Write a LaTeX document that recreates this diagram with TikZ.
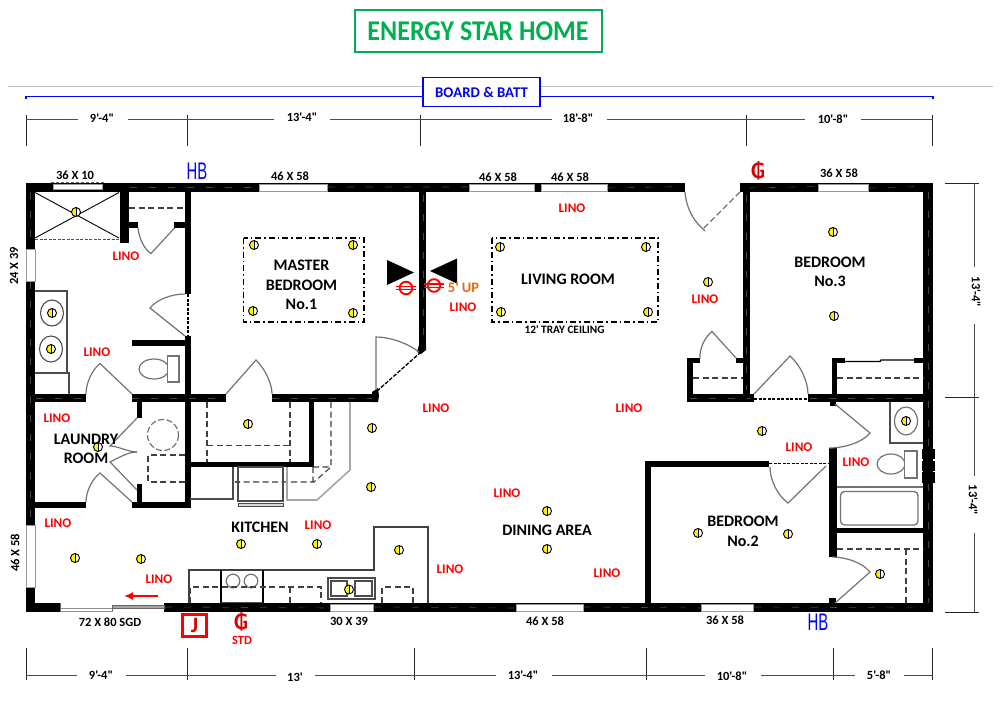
\documentclass[tikz,border=0pt]{standalone}
\usepackage{fontspec}
\usetikzlibrary{arrows.meta,calc}
\newfontfamily\cb{Carlito}
\newfontfamily\djf{DejaVu Sans}
\newfontfamily\lib{Liberation Sans}
\definecolor{egreen}{RGB}{0,176,80}
\definecolor{eorange}{RGB}{228,108,10}
\newcommand\wl[4]{\fill[black] (#1,#2) rectangle (#3,#4);}
\newcommand\win[4]{\fill[white] (#1,#2) rectangle (#3,#4);}
\newcommand\door[6]{\draw[doorln] (#1,#2) -- (#3,#4) .. controls ($(#3,#4)!.58!(#5)$) and ($(#6)!.58!(#5)$) .. (#6);}
\tikzset{
  traytxt/.style={inner sep=0pt,align=center,text=black,font=\cb\bfseries\fontsize{11.3}{13}\selectfont},
  room/.style={inner sep=0pt,align=center,text=black,font=\cb\bfseries\fontsize{16}{19.5}\selectfont},
  size/.style={inner sep=0pt,text=black,font=\cb\bfseries\fontsize{12.5}{14}\selectfont},
  lino/.style={inner sep=0pt,text=red,font=\cb\bfseries\fontsize{13.2}{15}\selectfont},
  doorln/.style={draw=black!55,line width=1.2pt},
  dashln/.style={draw=black!75,line width=1.1pt,dash pattern=on 6pt off 3.5pt},
  wallmark/.style={draw=black!72,line width=.6pt,dash pattern=on 7pt off 12pt},
  thinln/.style={draw=black!70,line width=1.1pt},
  dimln/.style={draw=black!70,line width=.8pt},
  dimtick/.style={draw=black!85,line width=.7pt},
  tray/.style={draw=black,line width=1.1pt,dash pattern=on 6pt off 3pt on 1.5pt off 3pt},
  lamp/.pic={
    \fill[white] (0,0) circle (4.5);
    \fill[yellow] (0,-4.5) .. controls (-6,-4.5) and (-6,4.5) .. (0,4.5) -- cycle;
    \draw[black,line width=.9pt] (0,0) circle (4.5);
    \draw[black,line width=.7pt] (0,-4.5) -- (0,4.5);
  },
  outlet/.pic={
    \draw[red,line width=1.9pt] (0,0) circle (6.3);
    \draw[red,line width=1.2pt] (-10,-1.6) -- (10,-1.6) (-10,1.6) -- (10,1.6);
  },
  fanr/.pic={\fill[black] (0,-12.5) -- (27,0) -- (0,12.5) -- cycle;},
  fanl/.pic={\fill[black] (0,-12.5) -- (-27,0) -- (0,12.5) -- cycle;},
}
\begin{document}
\begin{tikzpicture}[x=1pt,y=-1pt]
\useasboundingbox (0,0) rectangle (1000,703);
\fill[white] (0,0) rectangle (1000,703);

% title
\draw[egreen,line width=2pt] (355,10) rectangle (602,52);
\node[inner sep=0pt,text=egreen,yscale=1.1,font=\cb\bfseries\fontsize{26}{30}\selectfont] (title) at (478,31) {ENERGY STAR HOME};
\draw[black!25,line width=.8pt] (8,86) -- (993,86);

% board and batt
\draw[blue,line width=1.5pt] (26,99.5) -- (26,96.5) -- (933,96.5) -- (933,99.5);
\node[draw=blue,fill=white,line width=1.6pt,minimum width=117pt,minimum height=29pt,inner sep=0pt,text=blue,font=\cb\bfseries\fontsize{14.8}{16}\selectfont] (bb) at (481.5,92) {BOARD \& BATT};

% top dimensions
\foreach \x in {26,187.5,420,746,932.5} \draw[dimtick] (\x,115) -- (\x,146);
\draw[dimln] (26,119) -- (78,119) (128,119) -- (274,119) (330,119) -- (552,119) (607,119) -- (805,119) (861,119) -- (932.5,119);
\node[size] (t1) at (102,118) {9'-4"};
\node[size] (t2) at (302,117) {13'-4"};
\node[size] (t3) at (578,118.5) {18'-8"};
\node[size] (t4) at (833,119.5) {10'-8"};

% bottom dimensions
\foreach \x in {26,187.5,414.5,646,833,932.5} \draw[dimtick] (\x,648) -- (\x,680);
\draw[dimln] (26,675.5) -- (76.5,675.5) (126,675.5) -- (275.5,675.5) (315,675.5) -- (495.5,675.5) (552,675.5) -- (705,675.5) (761,675.5) -- (855,675.5) (904,675.5) -- (932.5,675.5);
\node[size] (b1) at (101,675) {9'-4"};
\node[size] (b2) at (295,677) {13'};
\node[size] (b3) at (523,675) {13'-4"};
\node[size] (b4) at (732,676) {10'-8"};
\node[size] (b5) at (879,675) {5'-8"};

% right dimensions
\draw[dimtick] (945,183) -- (979,183) (945,397) -- (979,397) (945,612) -- (979,612);
\draw[dimln] (974,183) -- (974,267) (974,324) -- (974,476) (974,533) -- (974,612);
\node[size,rotate=-90] (r1) at (976,292) {13'-4"};
\node[size,rotate=-90] (r2) at (973,500) {13'-4"};

% ---------- outer walls
\wl{26}{183}{933}{192}
\wl{26}{183}{35}{612}
\wl{923}{183}{933}{612}
\wl{26}{603}{933}{612}
% door gap top and SGD
\win{685}{182}{740}{193}
\win{60}{602}{164}{613}
\draw[black!45,line width=.8pt,fill=white] (60,608) rectangle (112,611);
\draw[black!60,line width=.8pt,fill=black!35] (112,605) rectangle (164,608);
\draw[black!60,line width=.8pt] (60,603) -- (60,611) (112,605) -- (112,611);
% windows
\tikzset{winbox/.style={draw=black!40,line width=.5pt,fill=white}}
\draw[winbox] (53,184) rectangle (102,189.5);
\draw[black!60,line width=.6pt,densely dashed] (51,182.5) -- (104,182.5);
\draw[winbox] (259,184) rectangle (327,191);
\draw[winbox] (469,184) rectangle (534,191);
\draw[winbox] (541,184) rectangle (607,191);
\draw[winbox] (818,184) rectangle (868,191);
\draw[winbox] (26,249) rectangle (35,281);
\draw[winbox] (26,525) rectangle (35,587);
\draw[winbox] (330,604) rectangle (373,611);
\draw[winbox] (516,604) rectangle (583,611);
\draw[winbox] (701,604) rectangle (753,611);
% right bumps
\wl{921.5}{449}{934.5}{459}
\wl{921.5}{460.5}{934.5}{470.5}
\wl{921.5}{472}{934.5}{483}

% ---------- interior walls
\wl{120}{192}{129}{243}
\wl{129}{222.5}{138}{228}
\wl{174}{222.5}{185}{228}
\wl{185}{192}{191}{294}
\wl{185}{336}{191}{508}
\wl{132}{340}{185}{345.5}
\wl{35}{394}{86}{402}
\wl{132}{394}{226}{402}
\wl{272}{394}{378}{402}
\wl{137}{402}{142}{418}
\wl{137}{484}{142}{502}
\wl{35}{502}{86}{508}
\wl{132}{502}{191}{508}
\wl{190}{462}{314}{467}
\wl{309}{402}{314}{467}
\wl{419}{192}{426}{350}
\fill[black] (419,345) -- (426,345) -- (426,350) -- (421,354) -- (417,352) -- cycle;
\fill[black] (372,392) -- (378,388) -- (379,396) -- (378,402) -- (372,402) -- cycle;
% right block
\wl{743}{183}{749.5}{401}
\wl{687}{358}{693}{402}
\wl{687}{394}{754}{402}
\wl{687}{358}{700}{363}
\wl{736}{358}{743}{363}
\wl{808}{394}{923}{402}
\wl{832}{358}{837}{394}
\wl{832}{358}{845}{363}
\wl{914}{358}{923}{363}
\wl{830}{402}{836}{406}
\wl{829}{448}{837}{557}
\wl{837}{528}{923}{533}
\wl{645}{461}{769}{467}
\wl{645}{461}{651}{603}
\wl{829}{598}{836}{603}
\draw[black,line width=1.4pt] (845,361.5) -- (880,361.5) -- (881,360) -- (914,360);

% wall marks
\draw[wallmark] (130,187.5) -- (258,187.5) (328,187) -- (468,187) (608,188) -- (684,186.5) (750,188) -- (817,186.5) (869,188) -- (922,186.5);
\draw[wallmark] (928,192) -- (928,448) (928,484) -- (928,603);
\draw[wallmark] (30,192) -- (30,248) (30,282) -- (30,524);
\draw[wallmark] (165,607) -- (329,608) (374,607) -- (515,608) (584,607) -- (700,608) (754,607) -- (922,608);
\draw[wallmark] (423,195) -- (423,345) (746,195) -- (746,390);
\draw[wallmark] (36,398) -- (86,398) (132,398) -- (226,398) (272,398) -- (372,398) (690,398) -- (750,398) (810,398) -- (920,398);

% dashed connectors at door openings
\draw[black,line width=1.2pt,dash pattern=on 3pt off 1.5pt] (188,294) -- (188,336);
\draw[black,line width=1.2pt,dash pattern=on 3pt off 1.5pt] (754,399) -- (808,399);
\draw[black,line width=1.2pt,dash pattern=on 3pt off 1.5pt] (769,463.5) -- (829,463.5);
\draw[black,line width=1.3pt,dash pattern=on 4pt off 1.5pt] (421,352) -- (376,392);

% ---------- doors
\door{174.5}{228}{151}{253.5}{140,247}{138,228}
\door{185}{336}{150}{308}{161,294}{185,294}
\door{132}{394}{100}{363.5}{86,375}{86,394}
\door{226}{394}{256}{360}{272,376}{272,394}
\door{132}{502}{100}{473}{86,484}{86,502}
\draw[doorln] (137,418) -- (110,446) .. controls (118,446) and (128,452) .. (137,452);
\draw[doorln] (137,452) .. controls (128,452) and (118,458) .. (110,462) -- (137,490);
\door{376}{390}{376}{337}{400,337}{419,352}
\draw[draw=black!55,line width=1.1pt,dash pattern=on 6pt off 3pt] (740,192) -- (703,229);
\draw[doorln] (705,231) -- (701,227) .. controls ($(701,227)!.58!(686,214)$) and ($(685,192)!.58!(686,214)$) .. (685,192);
\door{736}{358}{712}{331.5}{699,342}{700,358}
\door{754}{394}{790}{356}{808,372}{808,394}
\door{835}{404}{870}{433}{858,448}{829,448}
\door{826}{466}{788}{503}{770,490}{770,467}
\door{835}{603}{870}{572}{858,557}{832,557}

% ---------- master bath fixtures
\draw[black,line width=.9pt] (35,192.5) -- (119,238) (119,192.5) -- (35,238);
\draw[black!70,line width=1pt,dash pattern=on 3pt off 1.5pt] (35,239) -- (120,239);
\draw[dashln] (129,208) -- (185,208);
\draw[thinln] (35,291) -- (67,291) -- (67,373) -- (35,373) (67,373) -- (69,373) -- (69,394);
\draw[thinln] (52,313) circle [x radius=11.5,y radius=13];
\draw[thinln] (51,349) circle [x radius=11.5,y radius=13];
\draw[doorln] (154,369) circle [x radius=15,y radius=10];
\draw[doorln,fill=white] (167.5,356) rectangle (179,382);

% ---------- laundry
\draw[doorln,dash pattern=on 6pt off 2.5pt] (163,435) circle (15.5);
\draw[dashln] (185,455) -- (148,455) -- (148,482) -- (185,482);

% ---------- master closet & kitchen top
\draw[dashln] (207,402) -- (207,462) (290,402) -- (290,462) (207,445.5) -- (290,445.5);
\draw[dashln] (331,402) -- (331,467) -- (314,482) -- (240,482) (313,467) -- (331,467) (313,467) -- (313,482);
\draw[black!35,line width=1.6pt] (350,402) -- (350,470) -- (317,500) -- (287,500) -- (287,467);
\draw[thinln] (190,499) -- (233,499) -- (233,467) (235,482) -- (240,482);
\draw[black!70,line width=1.3pt] (238,467) rectangle (283,501);
\draw[black!70,line width=.8pt,fill=black!15] (238,503.5) rectangle (283,506);

% ---------- counter
\draw[black!75,line width=1.2pt] (189,603) -- (189,570) -- (374,570) -- (374,527) -- (428,527) -- (428,603);
\draw[black,line width=1.8pt] (221,570) -- (221,603) (263,570) -- (263,603);
\draw[black!70,line width=1pt] (221,602) -- (263,602);
\draw[doorln] (233,581) circle (6.8) (251,581) circle (6.8);
\draw[dashln] (190,603) -- (190,587) -- (321,587) -- (321,603) (290,587) -- (290,603);
\draw[dashln] (382,603) -- (382,587) -- (413,587) -- (413,603);
\draw[black!70,line width=1.2pt,fill=white] (328,578) rectangle (375,599);
\draw[black!70,line width=1.2pt] (331,581) rectangle (347,596) (355,581) rectangle (372,596);

% ---------- right closets and bath fixtures
\draw[dashln] (693,378) -- (743,378);
\draw[dashln] (837,378) -- (923,378);
\draw[thinln] (890,402) -- (890,443) -- (923,443);
\draw[doorln] (906,421) circle [x radius=11.5,y radius=14];
\draw[doorln] (891,464) circle [x radius=14,y radius=10];
\draw[doorln,fill=white] (904.5,451) rectangle (917,478);
\draw[doorln,line width=1.3pt] (837,487) -- (923,487);
\draw[doorln,rounded corners=4pt,line width=1.3pt] (840.5,491.5) rectangle (918,525);
\draw[dashln] (837,549) -- (923,549) (906,549) -- (906,603);

% ---------- tray ceilings
\draw[tray] (243.5,238) rectangle (364,322);
\draw[tray] (492,238) rectangle (658,322);

% ---------- lamps
\foreach \p in {(76,212),(254,245),(353,245),(253,311),(353,313),(52,313),(51,349),(98,447),(248,424),(372,428),(371,487),(75,558),(141,559),(241,544),(317,544),(399,550),(349,589.5),(547,511),(547,549),(500,247),(646,247),(501,312),(648,312),(708,282),(833,232),(834,316),(762,431),(698,533),(788,534),(906,421),(880,574)}
  \pic at \p {lamp};

% ---------- fans and outlets
\pic at (387,272.5) {fanr};
\pic at (457,271) {fanl};
\pic at (406,288) {outlet};
\pic at (434,285.5) {outlet};

% ---------- text labels
\node[room] (lab1) at (301.5,285) {MASTER\\BEDROOM\\No.1};
\node[room] (lab2) at (86,449) {LAUNDRY\\ROOM};
\node[room] (lab3) at (260,527) {KITCHEN};
\node[room] (lab4) at (568,279) {LIVING ROOM};
\node[room] (lab5) at (547,530) {DINING AREA};
\node[room] (lab6) at (830,272) {BEDROOM\\No.3};
\node[room] (lab7) at (743,531.5) {BEDROOM\\No.2};
\node[traytxt] (tray1) at (564.5,330) {12' TRAY CEILING};

\node[size] (w1) at (75,175.5) {36 X 10};
\node[size] (w2) at (290,176.5) {46 X 58};
\node[size] (w3) at (498,177) {46 X 58};
\node[size] (w4) at (570,177) {46 X 58};
\node[size] (w5) at (839,173.5) {36 X 58};
\node[size,rotate=90] (w6) at (14,266) {24 X 39};
\node[size,rotate=90] (w7) at (15,553) {46 X 58};
\node[size] (w8) at (110,622) {72 X 80 SGD};
\node[size] (w9) at (349,621) {30 X 39};
\node[size] (w10) at (545,621) {46 X 58};
\node[size] (w11) at (725,620) {36 X 58};

\foreach \p in {(126,256),(97,352),(57,418),(58,523),(318,525.5),(159,579.5),(436,408),(629,408),(572,208),(463,307),(705,299),(507,493),(450,569),(607,573),(799,447),(856,462)}
  \node[lino] at \p {LINO};
\node[inner sep=0pt,text=eorange,font=\cb\bfseries\fontsize{14.5}{16}\selectfont] (up) at (463.5,288) {5' UP};

% ---------- arrow
\coordinate (ar1) at (158,596);
\coordinate (ar2) at (124,596);
\draw[red,line width=1.6pt,-{Latex[length=9pt,width=8pt]}] (ar1) -- (ar2);

% ---------- symbols
\node[inner sep=0pt,text=blue,xscale=.62,font=\lib\fontsize{24}{26}\selectfont] (hb1) at (197,171) {HB};
\node[inner sep=0pt,text=blue,xscale=.62,font=\lib\fontsize{24}{26}\selectfont] (hb2) at (818,622) {HB};
\node[inner sep=0pt,text=red!85!black,font=\djf\bfseries\fontsize{21}{23}\selectfont] (g1) at (758,171) {₲};
\node[inner sep=0pt,text=red!85!black,font=\djf\bfseries\fontsize{21}{23}\selectfont] (g2) at (241,622) {₲};
\node[inner sep=0pt,text=red,font=\cb\bfseries\fontsize{12.5}{14}\selectfont] (std) at (242,640.5) {STD};
\node[draw=red,line width=2.4pt,minimum width=24pt,minimum height=22pt,inner sep=0pt,text=red!85!black,font=\cb\bfseries\fontsize{22}{24}\selectfont] (jb) at (194.5,625.5) {J};
\end{tikzpicture}
\end{document}
